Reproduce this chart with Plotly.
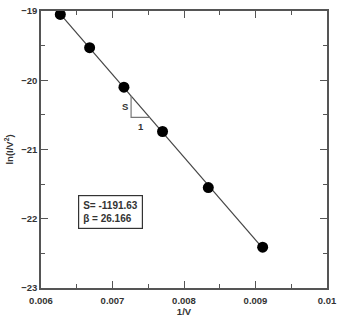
import numpy as np
import plotly.graph_objects as go

inv_v = [0.00627, 0.00668, 0.00716, 0.00770, 0.00834, 0.00910]
ln_iv2 = [-19.05, -19.53, -20.10, -20.74, -21.55, -22.41]
x_ticks = [0.006, 0.007, 0.008, 0.009, 0.01]
x_tick_text = ["0.006", "0.007", "0.008", "0.009", "0.01"]
y_ticks = [-23, -22, -21, -20, -19]
slope_label = "S= -1191.63"
beta_label = "β = 26.166"

m, c = np.polyfit(inv_v, ln_iv2, 1)
xl = np.array([inv_v[0], inv_v[-1]])

fig = go.Figure()
fig.add_trace(go.Scatter(x=xl, y=m * xl + c, mode="lines",
                         line=dict(color="#444", width=1.2), hoverinfo="skip"))
fig.add_trace(go.Scatter(x=inv_v, y=ln_iv2, mode="markers",
                         marker=dict(color="black", size=11)))

# slope triangle
tx0, tx1 = 0.00726, 0.00752
fig.add_trace(go.Scatter(x=[tx0, tx0, tx1], y=[m * tx0 + c, m * tx1 + c, m * tx1 + c],
                         mode="lines", line=dict(color="#777", width=1.2), hoverinfo="skip"))

font = dict(family="Liberation Sans, Arial", size=9.5, color="#333", weight="bold")
fig.add_annotation(x=0.00718, y=(m * tx0 + c + m * tx1 + c) / 2, text="S", showarrow=False,
                   font=font, xanchor="center")
fig.add_annotation(x=0.00740, y=m * tx1 + c - 0.13, text="1", showarrow=False,
                   font=font)
fig.add_annotation(x=0.00652, y=-21.66, xanchor="left", yanchor="top", align="left",
                   text=slope_label + "<br>" + beta_label, showarrow=False,
                   font=dict(family="Liberation Sans, Arial", size=10, color="#333", weight="bold"),
                   bordercolor="#333", borderwidth=1.2, borderpad=4,
                   bgcolor="white")

axis_common = dict(showgrid=False, zeroline=False, showline=True, linecolor="#555",
                   linewidth=1.5, mirror="ticks", ticks="inside", ticklen=7,
                   tickwidth=1.2, tickcolor="#555", tickfont=font)
fig.update_xaxes(range=[0.006, 0.01], tickvals=x_ticks, ticktext=x_tick_text,
                 ticklabelstandoff=3,
                 minor=dict(dtick=0.0005, ticks="inside", ticklen=4, tickcolor="#555"),
                 title=dict(text="1/V", font=font, standoff=1), **axis_common)
fig.update_yaxes(range=[-23, -19], tickvals=y_ticks,
                 minor=dict(dtick=0.5, ticks="inside", ticklen=4, tickcolor="#555"),
                 title=dict(text="ln(I/V<sup>2</sup>)", font=font, standoff=6), **axis_common)
fig.update_layout(width=342, height=319, margin=dict(l=41, r=10, t=5, b=23),
                  plot_bgcolor="white", paper_bgcolor="white", showlegend=False)
fig.write_html("out.html")
